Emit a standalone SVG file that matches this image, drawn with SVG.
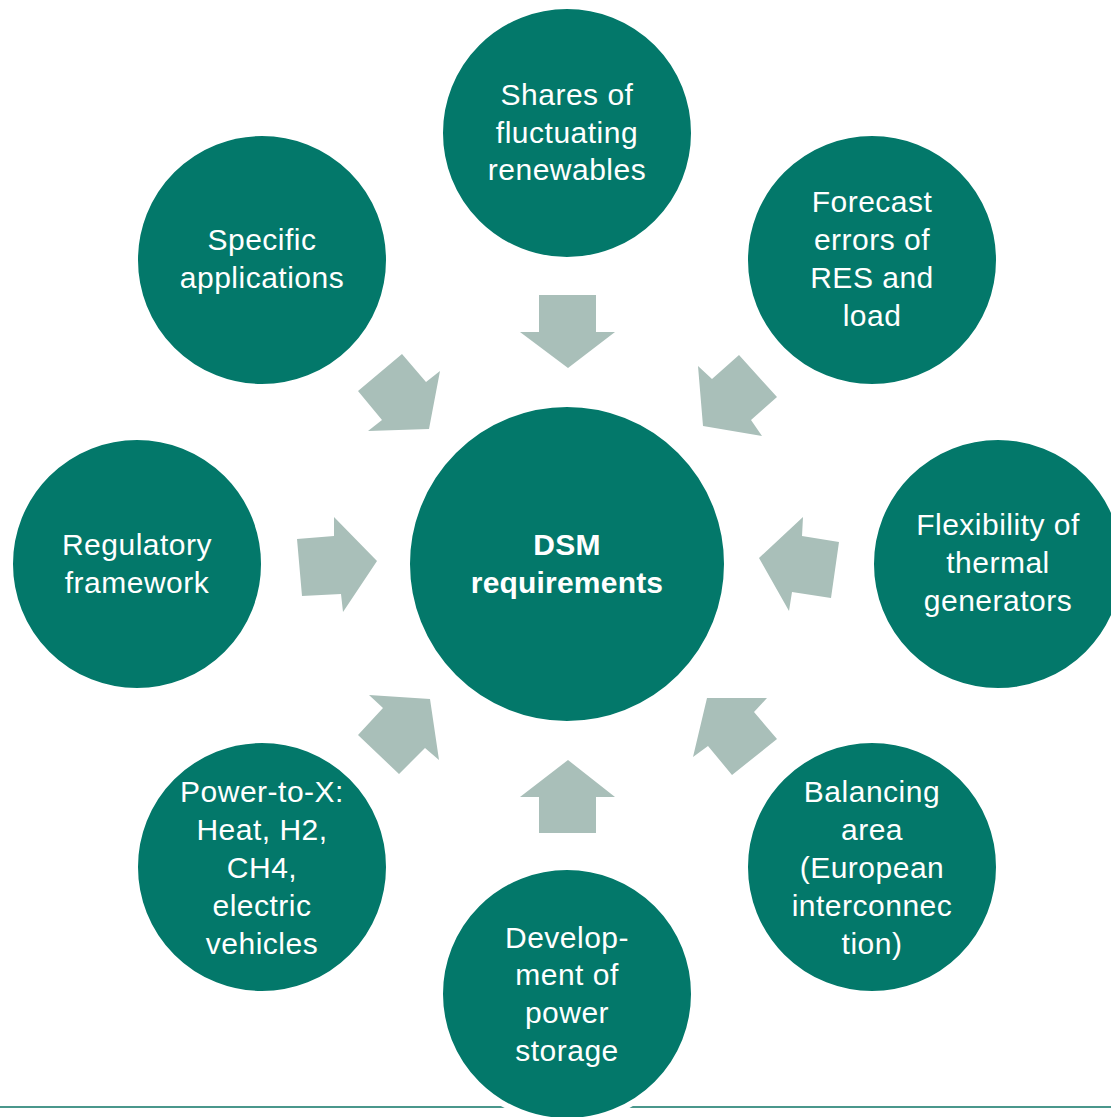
<svg xmlns="http://www.w3.org/2000/svg" width="1111" height="1117" viewBox="0 0 1111 1117">
<style>
.c{fill:#03786a;stroke:#ffffff;stroke-width:6}
.a{fill:#a9bfb9}
.t{font-family:"Liberation Sans",Arial,sans-serif;font-size:30px;letter-spacing:0.5px;fill:#ffffff;text-anchor:middle}
.b{font-weight:bold;letter-spacing:0.2px}
</style>
<rect width="1111" height="1117" fill="#ffffff"/>
<line x1="0" y1="1107" x2="1111" y2="1107" stroke="#4a978c" stroke-width="2"/>
<g id="connectors">
<polygon class="a" points="539,295 596,295 596,332 615,332 568,368 520,332 539,332"/>
<polygon class="a" points="539,833 596,833 596,797 615,797 568,760 520,797 539,797"/>
<polygon class="a" points="297,539 334,536 334,517 377,561 343,612 341,594 302,596"/>
<polygon class="a" points="839,542 802,536 803,517 759,558 789,611 792,592 831,598"/>
<polygon class="a" points="402,354 426,382 440,371 429,429 368,431 382,420 358,391"/>
<polygon class="a" points="739,355 777,397 751,420 762,436 703,426 698,366 712,379"/>
<polygon class="a" points="369,695 383,708 358,735 399,774 425,748 439,760 430,699"/>
<polygon class="a" points="707,698 767,698 754,712 777,739 732,775 708,746 693,757"/>
</g>
<g id="center">
<circle class="c" cx="567" cy="564" r="160"/>
<text class="t b" x="567" y="555">DSM</text>
<text class="t b" x="567" y="593">requirements</text>
</g>
<g id="n-top">
<circle class="c" cx="567" cy="133" r="127"/>
<text class="t" x="567" y="105">Shares of</text>
<text class="t" x="567" y="143">fluctuating</text>
<text class="t" x="567" y="180">renewables</text>
</g>
<g id="n-topright">
<circle class="c" cx="872" cy="260" r="127"/>
<text class="t" x="872" y="212">Forecast</text>
<text class="t" x="872" y="250">errors of</text>
<text class="t" x="872" y="288">RES and</text>
<text class="t" x="872" y="326">load</text>
</g>
<g id="n-right">
<circle class="c" cx="998" cy="564" r="127"/>
<text class="t" x="998" y="535">Flexibility of</text>
<text class="t" x="998" y="573">thermal</text>
<text class="t" x="998" y="611">generators</text>
</g>
<g id="n-bottomright">
<circle class="c" cx="872" cy="867" r="127"/>
<text class="t" x="872" y="802">Balancing</text>
<text class="t" x="872" y="840">area</text>
<text class="t" x="872" y="878">(European</text>
<text class="t" x="872" y="916">interconnec</text>
<text class="t" x="872" y="954">tion)</text>
</g>
<g id="n-bottom">
<circle class="c" cx="567" cy="994" r="127"/>
<text class="t" x="567" y="948">Develop-</text>
<text class="t" x="567" y="985">ment of</text>
<text class="t" x="567" y="1023">power</text>
<text class="t" x="567" y="1061">storage</text>
</g>
<g id="n-bottomleft">
<circle class="c" cx="262" cy="867" r="127"/>
<text class="t" x="262" y="802">Power-to-X:</text>
<text class="t" x="262" y="840">Heat, H2,</text>
<text class="t" x="262" y="878">CH4,</text>
<text class="t" x="262" y="916">electric</text>
<text class="t" x="262" y="954">vehicles</text>
</g>
<g id="n-left">
<circle class="c" cx="137" cy="564" r="127"/>
<text class="t" x="137" y="555">Regulatory</text>
<text class="t" x="137" y="593">framework</text>
</g>
<g id="n-topleft">
<circle class="c" cx="262" cy="260" r="127"/>
<text class="t" x="262" y="250">Specific</text>
<text class="t" x="262" y="288">applications</text>
</g>
</svg>
